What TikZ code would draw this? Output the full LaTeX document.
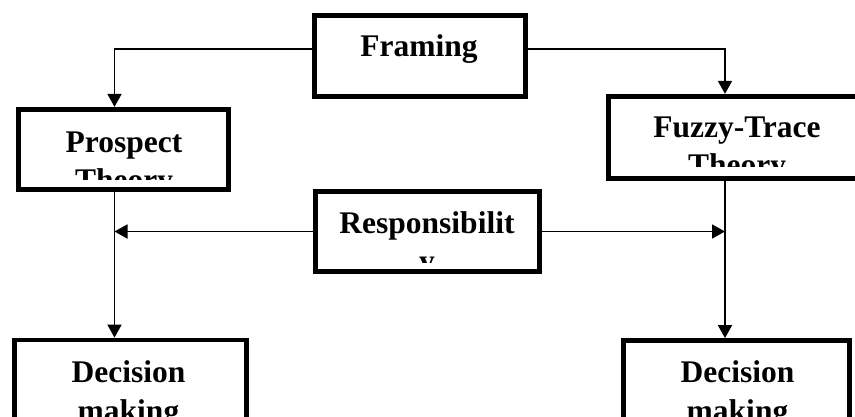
\documentclass[tikz,border=0pt]{standalone}
\usepackage{fontspec}
\setmainfont{Liberation Serif}
\usetikzlibrary{arrows.meta}
\begin{document}
\begin{tikzpicture}[x=1pt,y=-1pt,
  box/.style={draw=black, line width=4.8pt, fill=white, inner sep=0pt},
  lbl/.style={font=\fontsize{31.5}{39}\selectfont\bfseries, align=center, inner sep=0pt, anchor=base},
  conn/.style={draw=black, line width=1.8pt},
  arr/.style={conn, -{Triangle[length=13pt,width=14pt]}}
]
\useasboundingbox (0,0) rectangle (855,417);
\fill[white] (0,0) rectangle (855,417);

% boxes
\node[box, minimum width=211.5pt, minimum height=81.5pt] (framing) at (420,56) {};
\node[box, minimum width=210.5pt, minimum height=80.5pt] (prospect) at (123.5,149.5) {};
\node[box, minimum width=257.75pt, minimum height=82.5pt] (fuzzy) at (737.1,137.5) {};
\node[box, minimum width=224.5pt, minimum height=80.5pt] (resp) at (427.5,231.5) {};
\node[box, minimum width=232.5pt, minimum height=82pt] (decL) at (130.5,381) {};
\node[box, minimum width=226.5pt, minimum height=82pt] (decR) at (736.5,381.5) {};

% texts (clipped inside frames); base anchor = baseline of the last line
\node[lbl] (tFraming) at (419,57) {Framing};
\begin{scope}
  \clip (19,110) rectangle (228,180);
  \node[lbl] (tProspect) at (124,191) {Prospect\\Theory};
\end{scope}
\begin{scope}
  \clip (609,97) rectangle (866,167);
  \node[lbl] (tFuzzy) at (737,176) {Fuzzy-Trace\\Theory};
\end{scope}
\begin{scope}
  \clip (316,192) rectangle (539,262);
  \node[lbl] (tResp) at (427,272) {Responsibilit\\y};
\end{scope}
\begin{scope}
  \clip (15,341) rectangle (246,440);
  \node[lbl] (tDecL) at (128.5,421) {Decision\\making};
\end{scope}
\begin{scope}
  \clip (624,341) rectangle (849,440);
  \node[lbl] (tDecR) at (737.5,421) {Decision\\making};
\end{scope}

% helper coordinates
\coordinate (colL) at (114.5,0);
\coordinate (colR) at (725,0);
\coordinate (rowTop) at (0,49);

% connectors
\draw[arr] (framing.west |- rowTop) -| (colL |- prospect.north);
\draw[arr] (framing.east |- rowTop) -| (colR |- fuzzy.north);
\draw[arr] (resp.west) -- (resp.west -| colL);
\draw[arr] (resp.east) -- (resp.east -| colR);
\draw[arr] (colL |- prospect.south) -- (colL |- decL.north);
\draw[arr] (colR |- fuzzy.south) -- (colR |- decR.north);
\end{tikzpicture}
\end{document}
